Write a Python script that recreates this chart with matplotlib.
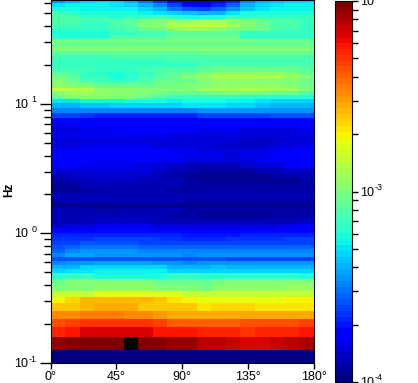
import numpy as np
import matplotlib
matplotlib.use("Agg")
import matplotlib.pyplot as plt
from matplotlib.colors import LogNorm
from matplotlib.ticker import LogLocator, NullFormatter

plt.rcParams["font.family"] = ["Liberation Sans", "DejaVu Sans"]

angle_edges = [0, 10, 20, 30, 40, 50, 60, 70, 80, 90, 100, 110, 120, 130, 140, 150, 160, 170, 180]

freq_edges = [
    0.1, 0.126, 0.159, 0.19, 0.219, 0.252, 0.29, 0.323, 0.36, 0.40, 0.445,
    0.495, 0.532, 0.571, 0.613, 0.658, 0.707, 0.76, 0.816, 0.876, 0.94, 1.0,
    1.093, 1.194, 1.306, 1.427, 1.56, 1.705, 1.864, 2.037, 2.227, 2.434, 2.66,
    2.907, 3.178, 3.473, 3.796, 4.15, 4.535, 4.957, 5.418, 5.922, 6.473, 7.075,
    7.733, 8.45, 9.24, 10.1, 10.85, 11.65, 12.5, 13.4, 14.4, 15.5, 16.6, 17.8,
    19.2, 20.6, 22.1, 23.7, 25.5, 27.3, 29.4, 31.5, 33.9, 36.4, 39.0, 41.9,
    45.0, 48.3, 51.9, 55.7, 59.8, 64.2,
]

# log10 of amplitude x 100, lowest frequency first
log_amp = [
    [-397] * 18,
    [-206, -203, -201, -201, -201, -190, -201, -201, -204, -206, -210, -212, -214, -218, -218, -215, -210, -207],
    [-228, -224, -218, -218, -218, -218, -218, -222, -224, -224, -228, -228, -228, -230, -226, -226, -226, -224],
    [-236, -234, -230, -230, -230, -230, -230, -234, -238, -240, -240, -240, -238, -236, -236, -236, -236, -234],
    [-250, -250, -246, -246, -246, -248, -248, -252, -256, -256, -256, -256, -256, -254, -254, -254, -254, -254],
    [-262, -262, -258, -256, -256, -256, -260, -260, -260, -260, -266, -264, -264, -264, -266, -266, -266, -266],
    [-270, -263, -259, -259, -259, -259, -259, -260, -266, -270, -274, -273, -274, -274, -272, -272, -270, -270],
    [-282, -282, -282, -276, -276, -276, -278, -278, -278, -282, -282, -284, -284, -284, -284, -284, -282, -282],
    [-300, -300, -300, -296, -296, -296, -296, -300, -300, -300, -302, -296, -296, -294, -294, -294, -292, -292],
    [-306, -300, -300, -300, -300, -300, -300, -306, -306, -306, -306, -302, -300, -300, -300, -300, -300, -300],
    [-320, -316, -316, -322, -322, -322, -322, -322, -318, -318, -320, -320, -320, -320, -320, -320, -320, -322],
    [-332, -330, -330, -326, -326, -326, -328, -328, -332, -332, -332, -334, -334, -334, -334, -334, -334, -334],
    [-340, -338, -334, -334, -332, -332, -334, -334, -338, -340, -338, -336, -338, -338, -338, -338, -338, -338],
    [-350, -346, -344, -342, -342, -342, -342, -344, -346, -350, -346, -344, -344, -344, -344, -344, -344, -344],
    [-358, -358, -358, -358, -358, -358, -358, -358, -358, -358, -358, -358, -360, -360, -360, -360, -360, -360],
    [-350, -342, -342, -344, -344, -346, -346, -346, -346, -348, -346, -344, -344, -344, -344, -344, -344, -344],
    [-354, -348, -346, -346, -346, -346, -348, -348, -350, -350, -350, -348, -350, -350, -350, -350, -348, -348],
    [-358, -354, -352, -352, -352, -352, -354, -354, -354, -356, -354, -354, -354, -354, -354, -354, -354, -354],
    [-360, -360, -358, -358, -358, -358, -360, -360, -360, -360, -360, -360, -360, -360, -360, -360, -360, -360],
    [-364, -364, -364, -362, -362, -362, -362, -364, -364, -366, -366, -366, -364, -364, -364, -364, -362, -362],
    [-368, -368, -368, -368, -366, -366, -366, -368, -368, -370, -370, -370, -370, -368, -368, -368, -368, -366],
    [-374, -374, -374, -372, -372, -372, -372, -372, -374, -376, -378, -378, -376, -374, -374, -374, -372, -372],
    [-386, -384, -382, -380, -380, -380, -380, -382, -382, -384, -384, -384, -384, -382, -382, -382, -380, -378],
    [-388, -388, -388, -386, -386, -386, -386, -388, -388, -388, -388, -388, -388, -388, -388, -388, -388, -386],
    [-390, -390, -390, -390, -388, -388, -390, -390, -392, -392, -394, -394, -394, -394, -394, -392, -392, -392],
    [-390, -390, -390, -392, -392, -390, -390, -390, -390, -392, -392, -392, -392, -392, -392, -392, -392, -392],
    [-396, -396, -394, -394, -394, -394, -394, -396, -396, -396, -396, -396, -396, -396, -396, -396, -396, -396],
    [-390, -390, -390, -390, -390, -390, -390, -390, -390, -392, -392, -392, -392, -392, -392, -392, -392, -392],
    [-388, -388, -388, -388, -388, -388, -388, -388, -388, -388, -388, -388, -388, -388, -388, -388, -388, -388],
    [-396, -394, -392, -392, -390, -390, -390, -390, -392, -392, -392, -392, -392, -392, -392, -392, -392, -392],
    [-394, -392, -390, -390, -390, -388, -390, -390, -390, -392, -392, -392, -392, -392, -392, -392, -392, -392],
    [-392, -390, -388, -386, -386, -386, -388, -388, -390, -392, -394, -394, -394, -394, -394, -394, -394, -392],
    [-388, -386, -386, -386, -386, -386, -386, -388, -392, -394, -396, -396, -396, -396, -394, -392, -392, -390],
    [-384, -382, -382, -382, -382, -382, -384, -386, -388, -390, -392, -392, -392, -392, -390, -388, -386, -386],
    [-378, -378, -380, -380, -380, -380, -382, -384, -386, -388, -388, -388, -388, -386, -384, -382, -378, -378],
    [-372, -372, -374, -376, -376, -376, -378, -380, -380, -382, -384, -384, -384, -382, -380, -378, -376, -376],
    [-378, -376, -376, -378, -378, -378, -378, -378, -378, -380, -380, -380, -382, -380, -380, -378, -376, -376],
    [-378, -378, -378, -378, -378, -378, -378, -378, -380, -380, -382, -384, -384, -384, -382, -380, -378, -378],
    [-382, -382, -380, -380, -380, -380, -380, -382, -382, -384, -384, -386, -386, -386, -386, -384, -382, -380],
    [-384, -384, -382, -382, -382, -382, -382, -382, -382, -382, -384, -384, -384, -386, -386, -386, -384, -384],
    [-380, -380, -380, -380, -380, -380, -380, -380, -382, -382, -382, -384, -384, -384, -384, -384, -384, -384],
    [-382, -382, -380, -380, -378, -378, -378, -378, -378, -378, -380, -380, -380, -382, -382, -382, -382, -380],
    [-380, -380, -378, -378, -376, -376, -376, -376, -376, -376, -376, -376, -376, -376, -378, -378, -376, -376],
    [-372, -372, -372, -372, -372, -372, -372, -372, -372, -372, -372, -372, -372, -374, -374, -374, -374, -374],
    [-360, -362, -364, -366, -366, -366, -366, -366, -366, -366, -362, -360, -360, -360, -360, -358, -358, -358],
    [-350, -350, -350, -350, -350, -350, -350, -350, -348, -348, -346, -346, -346, -346, -346, -346, -346, -346],
    [-338, -338, -336, -336, -334, -334, -334, -334, -332, -330, -330, -330, -332, -334, -336, -338, -338, -338],
    [-330, -330, -328, -328, -326, -324, -324, -324, -326, -324, -322, -324, -326, -328, -330, -332, -334, -334],
    [-306, -298, -296, -296, -298, -300, -304, -310, -314, -316, -318, -318, -318, -320, -320, -320, -320, -320],
    [-300, -292, -292, -294, -298, -298, -298, -302, -306, -306, -304, -302, -300, -302, -302, -304, -306, -310],
    [-282, -286, -286, -294, -296, -296, -298, -298, -300, -298, -290, -288, -288, -286, -286, -288, -290, -298],
    [-296, -298, -300, -306, -306, -304, -304, -302, -302, -300, -298, -296, -296, -296, -296, -296, -298, -302],
    [-298, -304, -312, -314, -316, -314, -310, -306, -304, -304, -300, -296, -296, -296, -298, -298, -300, -304],
    [-302, -308, -316, -318, -322, -320, -314, -310, -306, -300, -294, -290, -288, -288, -290, -290, -294, -298],
    [-308, -312, -316, -320, -322, -320, -316, -312, -308, -304, -300, -296, -294, -294, -296, -296, -300, -304],
    [-314, -314, -314, -316, -316, -316, -314, -312, -312, -310, -308, -306, -306, -306, -306, -306, -306, -308],
    [-318, -318, -318, -318, -318, -318, -316, -316, -316, -316, -312, -310, -310, -310, -310, -310, -310, -310],
    [-318, -318, -318, -318, -316, -316, -316, -316, -314, -314, -314, -314, -314, -314, -314, -314, -314, -314],
    [-314, -314, -314, -314, -312, -312, -312, -312, -312, -312, -312, -312, -312, -312, -310, -310, -310, -310],
    [-308, -308, -308, -308, -308, -308, -308, -308, -308, -308, -306, -306, -306, -306, -306, -306, -306, -306],
    [-298, -298, -298, -298, -298, -298, -298, -298, -298, -298, -298, -298, -298, -298, -300, -300, -300, -300],
    [-304, -304, -304, -304, -304, -304, -304, -304, -304, -304, -304, -304, -304, -304, -306, -306, -306, -306],
    [-302, -302, -302, -302, -302, -302, -302, -302, -302, -302, -302, -302, -302, -302, -304, -304, -304, -304],
    [-320, -320, -320, -320, -312, -312, -312, -312, -306, -306, -306, -306, -306, -316, -316, -316, -316, -316],
    [-322, -322, -322, -322, -318, -316, -314, -314, -308, -308, -308, -308, -308, -316, -316, -316, -316, -316],
    [-316, -316, -316, -316, -314, -312, -306, -302, -296, -292, -292, -296, -298, -302, -306, -310, -314, -316],
    [-314, -314, -316, -316, -312, -308, -300, -294, -286, -282, -282, -284, -292, -298, -306, -310, -312, -316],
    [-312, -312, -314, -314, -312, -308, -302, -298, -292, -288, -286, -286, -294, -300, -306, -310, -312, -314],
    [-310, -312, -316, -318, -320, -318, -316, -314, -320, -322, -324, -322, -318, -316, -316, -316, -318, -318],
    [-314, -320, -322, -322, -322, -324, -326, -330, -334, -336, -340, -340, -330, -324, -322, -322, -322, -322],
    [-322, -324, -326, -326, -326, -328, -332, -338, -352, -358, -362, -356, -346, -336, -330, -326, -326, -326],
    [-330, -326, -326, -326, -330, -334, -340, -350, -362, -374, -376, -368, -356, -340, -332, -330, -328, -328],
    [-344, -338, -334, -330, -334, -340, -352, -364, -376, -386, -386, -380, -366, -348, -340, -336, -334, -334],
]

x_ticks = [0, 45, 90, 135, 180]
x_labels = ["0°", "45°", "90°", "135°", "180°"]
y_ticks = [0.1, 1, 10]
y_exponents = ["-1", "0", "1"]
cbar_ticks = [1e-4, 1e-3, 1e-2]
cbar_exponents = ["-4", "-3", "-2"]


def power_label(ax, tick, exponent, base_x, exp_x):
    # base and exponent are set apart, the exponent is nearly full size in the original
    ax.annotate(
        "10",
        xy=(0, tick),
        xycoords=("axes fraction", "data"),
        xytext=(base_x, -1),
        textcoords="offset pixels",
        ha="left",
        va="center",
        fontsize=9,
        annotation_clip=False,
    )
    ax.annotate(
        exponent,
        xy=(0, tick),
        xycoords=("axes fraction", "data"),
        xytext=(exp_x, 4),
        textcoords="offset pixels",
        ha="right",
        va="center",
        fontsize=6.5,
        annotation_clip=False,
    )


amp = 10.0 ** (np.array(log_amp) / 100.0)

cmap = plt.get_cmap("jet", 64).copy()
cmap.set_over("black")
norm = LogNorm(vmin=1e-4, vmax=1e-2)

fig = plt.figure(figsize=(4.18, 3.83), dpi=100)
ax = fig.add_axes([50.5 / 418, 20 / 383, 263 / 418, 363 / 383])
mesh = ax.pcolormesh(angle_edges, freq_edges, amp, cmap=cmap, norm=norm, shading="flat")
ax.set_yscale("log")
ax.set_xlim(0, 180)
ax.set_ylim(0.1, 63.5)
ax.set_xticks(x_ticks)
ax.set_xticklabels(x_labels, fontsize=9)
ax.set_yticks(y_ticks)
ax.set_yticklabels([])
ax.yaxis.set_minor_locator(LogLocator(base=10, subs=range(2, 10)))
ax.yaxis.set_minor_formatter(NullFormatter())
ax.tick_params(axis="y", which="major", length=8, width=1)
ax.tick_params(axis="y", which="minor", length=5, width=1)
ax.tick_params(axis="x", which="major", length=4, width=1, pad=2)
ax.set_ylabel("Hz", fontsize=8.5, fontweight="bold", va="center")
ax.yaxis.set_label_coords(-0.158, 0.477)
for tick, exponent in zip(y_ticks, y_exponents):
    power_label(ax, tick, exponent, -36, -14)

cax = fig.add_axes([334.5 / 418, 1 / 383, 17 / 418, 381 / 383])
cbar = fig.colorbar(mesh, cax=cax, extend="neither")
cbar.set_ticks(cbar_ticks)
cbar.set_ticklabels([])
cbar.ax.minorticks_on()
cbar.ax.tick_params(which="both", length=4, width=1)
for tick, exponent in zip(cbar_ticks, cbar_exponents):
    power_label(cbar.ax, tick, exponent, 25.5, 48.5)

fig.savefig("out.png", dpi=100)
